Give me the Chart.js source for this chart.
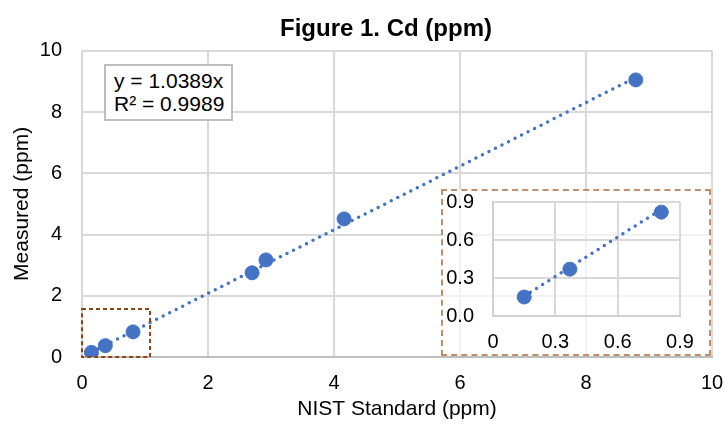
<!DOCTYPE html>
<html>
<head>
<meta charset="utf-8">
<script src="https://cdn.jsdelivr.net/npm/chart.js@4.4.0/dist/chart.umd.min.js"></script>
<style>
  body { margin: 0; background: #fff; }
  #wrap { position: relative; width: 725px; height: 426px; }
  #main { position: absolute; left: 0; top: 0; }
  #inset { position: absolute; left: 441px; top: 189px; background: rgba(255,255,255,0.65); }
  #insetBox { position: absolute; left: 441px; top: 189px; width: 270px; height: 167px; box-sizing: border-box;
              border: 2px dashed #bf8f6b; }
  #eq { position: absolute; left: 104px; top: 64px; width: 129px; height: 57px; border: 2px solid #bfbfbf; background: #fff;
        font: 21px "Liberation Sans", Arial, sans-serif; color: #000; line-height: 23px; padding: 3px 0 0 8px; box-sizing: border-box;
        white-space: nowrap; }
</style>
</head>
<body>
<div id="wrap">
  <canvas id="main" width="725" height="426"></canvas>
  <canvas id="inset" width="270" height="167"></canvas>
  <div id="insetBox"></div>
  <div id="eq">y = 1.0389x<br>R² = 0.9989</div>
</div>
<script>
let nist_values = [0.15, 0.37, 0.81, 2.70, 2.92, 4.16, 8.79];
let measured_values = [0.15, 0.37, 0.82, 2.75, 3.17, 4.51, 9.05];
let inset_x = [0.15, 0.37, 0.81];
let inset_y = [0.15, 0.37, 0.82];
let slope = 1.0389;
let inset_y_labels = ["0.0", "0.3", "0.6", "0.9"];
let inset_x_labels = ["0", "0.3", "0.6", "0.9"];

let font_family = "'Liberation Sans', Arial, sans-serif";
let blue = "#4472C4";
let grid = "#d9d9d9";

let points = nist_values.map((x, i) => ({ x: x, y: measured_values[i] }));
let trend = [
    { x: nist_values[0], y: slope * nist_values[0] },
    { x: nist_values[nist_values.length - 1], y: slope * nist_values[nist_values.length - 1] }
];
let inset_points = inset_x.map((x, i) => ({ x: x, y: inset_y[i] }));
let inset_trend = [
    { x: inset_x[0], y: slope * inset_x[0] },
    { x: inset_x[inset_x.length - 1], y: slope * inset_x[inset_x.length - 1] }
];

// brown dashed box around the zoomed region
let zoomBox = {
    id: "zoomBox",
    afterDatasetsDraw(chart) {
        let xs = chart.scales.x, ys = chart.scales.y, ctx = chart.ctx;
        ctx.save();
        ctx.strokeStyle = "#8B4513";
        ctx.lineWidth = 2;
        ctx.setLineDash([4, 3]);
        ctx.strokeRect(xs.getPixelForValue(0), ys.getPixelForValue(1.57),
            xs.getPixelForValue(1.08) - xs.getPixelForValue(0),
            ys.getPixelForValue(0) - ys.getPixelForValue(1.57));
        ctx.restore();
    }
};

// excel centres the title a bit right of the canvas middle
let titleShift = {
    id: "titleShift",
    afterLayout(chart) {
        chart.titleBlock.left += 30;
        chart.titleBlock.right += 30;
    }
};

function trendSet(data) {
    return {
        type: "line",
        data: data,
        borderColor: blue,
        borderWidth: 3.5,
        borderDash: [0, 7.3],
        borderCapStyle: "round",
        pointRadius: 0,
        fill: false,
        order: 2
    };
}

new Chart(document.getElementById("main").getContext("2d"), {
    type: "scatter",
    data: {
        datasets: [{
            data: points,
            backgroundColor: blue,
            borderColor: blue,
            pointRadius: 7,
            order: 1
        }, trendSet(trend)]
    },
    options: {
        responsive: false,
        animation: false,
        events: [],
        layout: { padding: { right: 13 } },
        plugins: {
            legend: { display: false },
            tooltip: { enabled: false },
            title: {
                display: true,
                text: "Figure 1. Cd (ppm)",
                color: "#000",
                font: { family: font_family, size: 24, weight: "bold" },
                padding: { top: 15, bottom: 7 }
            }
        },
        scales: {
            x: {
                min: 0, max: 10,
                ticks: { stepSize: 2, color: "#000", font: { family: font_family, size: 20 }, padding: 0 },
                grid: { color: grid, lineWidth: 2, tickLength: 14, tickColor: "transparent" },
                border: { color: "#bfbfbf", width: 2 },
                title: { display: true, text: "NIST Standard (ppm)", color: "#000",
                         font: { family: font_family, size: 21 }, padding: { top: 8 } },
                afterFit(s) { s.height = 69; }
            },
            y: {
                min: 0, max: 10,
                ticks: { stepSize: 2, color: "#000", font: { family: font_family, size: 20 }, padding: 0 },
                grid: { color: grid, lineWidth: 2, tickLength: 20, tickColor: "transparent" },
                border: { display: false },
                title: { display: true, text: "Measured (ppm)", color: "#000",
                         font: { family: font_family, size: 21 }, padding: { top: 10, bottom: 4 } },
                afterFit(s) { s.width = 82; }
            }
        }
    },
    plugins: [zoomBox, titleShift]
});

new Chart(document.getElementById("inset").getContext("2d"), {
    type: "scatter",
    data: {
        datasets: [{
            data: inset_points,
            backgroundColor: blue,
            borderColor: blue,
            pointRadius: 7,
            order: 1
        }, trendSet(inset_trend)]
    },
    options: {
        responsive: false,
        animation: false,
        events: [],
        layout: { padding: { right: 31, top: 13 } },
        plugins: { legend: { display: false }, tooltip: { enabled: false } },
        scales: {
            x: {
                min: 0, max: 0.9,
                afterBuildTicks(s) { s.ticks = inset_x_labels.map(v => ({ value: parseFloat(v) })); },
                ticks: { color: "#000", font: { family: font_family, size: 20 }, padding: 0,
                         callback: (v, i) => inset_x_labels[i] },
                grid: { color: grid, lineWidth: 2, tickLength: 14, tickColor: "transparent" },
                border: { color: "#d0d0d0", width: 2 },
                afterFit(s) { s.height = 40; }
            },
            y: {
                min: 0, max: 0.9,
                afterBuildTicks(s) { s.ticks = inset_y_labels.map(v => ({ value: parseFloat(v) })); },
                ticks: { color: "#000", font: { family: font_family, size: 20 }, padding: 0,
                         callback: (v, i) => inset_y_labels[i] },
                grid: { color: grid, lineWidth: 2, tickLength: 19, tickColor: "transparent" },
                border: { color: "#d0d0d0", width: 2 },
                afterFit(s) { s.width = 52; }
            }
        }
    }
});
</script>
</body>
</html>
